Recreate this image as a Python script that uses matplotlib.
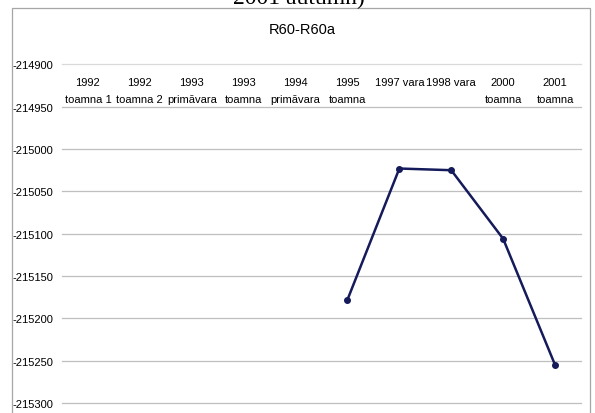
import numpy as np
import matplotlib
matplotlib.use("Agg")
import matplotlib.pyplot as plt
from matplotlib.patches import Rectangle

# Category labels (two-line Excel style) and the measured values
categories = [
    "1992\ntoamna 1", "1992\ntoamna 2", "1993\nprimăvara", "1993\ntoamna",
    "1994\nprimăvara", "1995\ntoamna", "1997 vara", "1998 vara",
    "2000\ntoamna", "2001\ntoamna",
]
values = [np.nan, np.nan, np.nan, np.nan, np.nan,
          -215178, -215023, -215025, -215106, -215255]
y_ticks = [-214900, -214950, -215000, -215050, -215100,
           -215150, -215200, -215250, -215300]

title = "R60-R60a"
caption_tail = "2001 autumn)"


def main():
    plt.rcParams['font.family'] = ['Liberation Sans Narrow', 'Liberation Sans', 'DejaVu Sans']

    fig = plt.figure(figsize=(5.95, 4.14), dpi=100)
    W, H = 595, 414

    # chart frame (bottom edge cut off in the source)
    fig.add_artist(Rectangle((12 / W, -0.05), (590 - 12) / W, 1.05 - 9 / H,
                             transform=fig.transFigure, fill=False,
                             edgecolor='#a6a6a6', linewidth=0.9))

    # partial caption from the document above the chart
    fig.text(0.503, 1 - 4 / H, caption_tail, ha='center', va='baseline',
             fontsize=17, family=['Liberation Serif', 'DejaVu Serif'])

    fig.text(302 / W, 1 - 30 / H, title, ha='center', va='center', fontsize=10.5)

    left, right = 62 / W, 581 / W
    top, bottom = 1 - 65.4 / H, 1 - 404 / H
    ax = fig.add_axes([left, bottom, right - left, top - bottom])

    x = np.arange(len(categories))
    ax.plot(x, values, color='#141a5a', linewidth=1.8, marker='o', markersize=4)

    ax.set_xlim(-0.5, len(categories) - 0.5)
    ax.set_ylim(min(y_ticks), max(y_ticks))
    ax.set_yticks(y_ticks)
    ax.set_yticklabels([str(v) for v in y_ticks], fontsize=8)
    ax.set_xticks([])
    ax.tick_params(axis='y', length=0, pad=6.5)
    ax.grid(axis='y', color='#bfbfbf', linewidth=0.9)
    for gl in ax.get_ygridlines():
        gl.set_clip_on(False)
    ax.get_ygridlines()[0].set_color('#d9d9d9')
    ax.set_axisbelow(True)
    for s in ax.spines.values():
        s.set_visible(False)

    # category labels sit near the top, Excel style
    for i, lab in enumerate(categories):
        ax.text(i, 1 - 13 / 338.6, lab, transform=ax.get_xaxis_transform(),
                ha='center', va='top', fontsize=8, linespacing=1.85)

    fig.savefig("out.png", dpi=100)


if __name__ == "__main__":
    main()
